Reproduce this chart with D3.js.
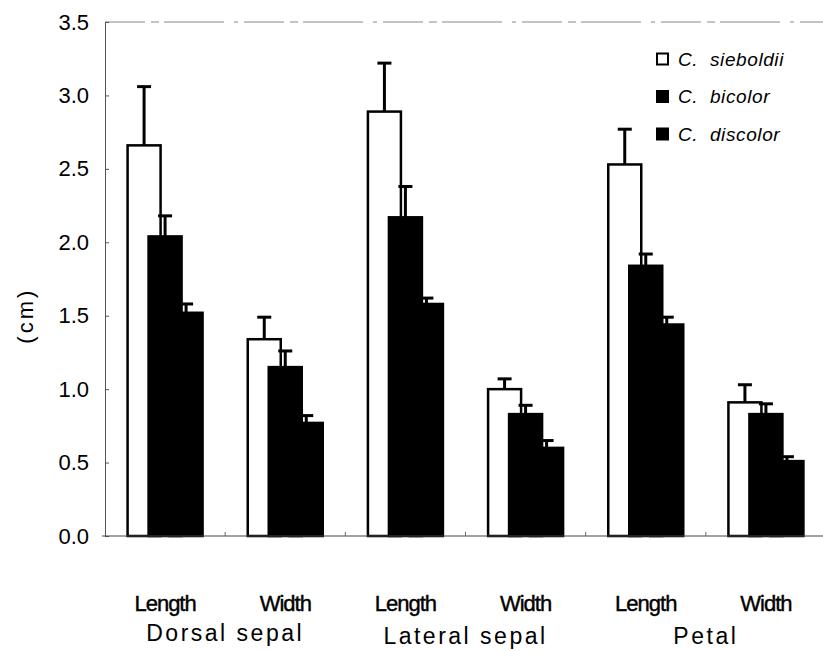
<!DOCTYPE html>
<html>
<head>
<meta charset="utf-8">
<script src="https://cdn.jsdelivr.net/npm/d3@7"></script>
<style>
    body { margin: 0; background: #fff; }
    #chart-area { width: 823px; height: 651px; }
</style>
</head>
<body>
<div id="chart-area"></div>
<script>

// values (cm)
let parts = ["Dorsal sepal", "Lateral sepal", "Petal"];
let measures = ["Length", "Width"];
let species = ["C. sieboldii", "C. bicolor", "C. discolor"];
let yTicks = [0, 0.5, 1.0, 1.5, 2.0, 2.5, 3.0, 3.5];

let sieboldii = [2.66, 1.34, 2.89, 1.00, 2.53, 0.91];
let sieboldiiErr = [0.40, 0.15, 0.33, 0.07, 0.24, 0.12];
let bicolor = [2.04, 1.15, 2.17, 0.83, 1.84, 0.83];
let bicolorErr = [0.14, 0.11, 0.21, 0.06, 0.08, 0.07];
let discolor = [1.52, 0.77, 1.58, 0.60, 1.44, 0.51];
let discolorErr = [0.06, 0.05, 0.04, 0.05, 0.05, 0.03];

class OrganChart {

    constructor(parentElement) {
        this.parentElement = parentElement;
    }

    initVis() {
        let vis = this;

        vis.width = 823;
        vis.height = 651;
        vis.margin = {top: 22, right: 0, bottom: 115, left: 105};

        vis.svg = d3.select("#" + vis.parentElement)
            .append("svg")
            .attr("width", vis.width)
            .attr("height", vis.height)
            .style("font-family", "Liberation Sans, Arial, sans-serif");

        // one slot per part/measure pair
        vis.cats = [];
        parts.forEach(p => measures.forEach(m => vis.cats.push({part: p, measure: m})));

        vis.x = d3.scaleBand()
            .domain(d3.range(vis.cats.length))
            .range([vis.margin.left, 826]);
        vis.xSub = d3.scalePoint()
            .domain(species)
            .range([0, 42]);
        vis.barW = 33;

        vis.y = d3.scaleLinear()
            .domain([0, 3.5])
            .range([vis.height - vis.margin.bottom, vis.margin.top]);

        vis.wrangleData();
    }

    wrangleData() {
        let vis = this;
        let vals = [sieboldii, bicolor, discolor];
        let errs = [sieboldiiErr, bicolorErr, discolorErr];

        vis.series = species.map((s, k) => ({
            name: s,
            fill: k === 0 ? "#fff" : "#000",
            values: vis.cats.map((c, i) => ({i: i, v: vals[k][i], e: errs[k][i]}))
        }));

        vis.updateVis();
    }

    updateVis() {
        let vis = this;
        let y0 = vis.y(0);

        // frame: thin left axis, ragged top line
        vis.svg.append("line")
            .attr("x1", vis.margin.left).attr("x2", 823)
            .attr("y1", vis.y(3.5)).attr("y2", vis.y(3.5))
            .attr("stroke", "#888")
            .attr("stroke-width", 1)
            .attr("stroke-dasharray", "40,6,8,5,60,10,4,6");

        let yAxis = d3.axisLeft(vis.y)
            .tickValues(yTicks)
            .tickFormat(d3.format(".1f"))
            .tickSize(-4)
            .tickPadding(16);
        let gy = vis.svg.append("g")
            .attr("class", "y-axis axis")
            .attr("transform", `translate(${vis.margin.left},0)`)
            .call(yAxis);
        gy.select(".domain").attr("stroke", "#555");
        gy.selectAll(".tick line").attr("stroke", "#555");
        gy.selectAll("text")
            .attr("font-size", "22px")
            .attr("fill", "#000")
            .attr("font-family", "Liberation Sans, Arial, sans-serif");

        // bars + error bars, drawn species by species so later ones overlap
        vis.series.forEach(s => {
            let g = vis.svg.append("g").attr("class", "series");
            let left = d => vis.x(d.i) + vis.x.bandwidth() / 2 - (42 + vis.barW) / 2 + vis.xSub(s.name);

            g.selectAll(".err")
                .data(s.values)
                .enter()
                .append("line")
                .attr("x1", d => left(d) + vis.barW / 2)
                .attr("x2", d => left(d) + vis.barW / 2)
                .attr("y1", d => vis.y(d.v))
                .attr("y2", d => vis.y(d.v + d.e))
                .attr("stroke", "#000")
                .attr("stroke-width", 3);
            g.selectAll(".cap")
                .data(s.values)
                .enter()
                .append("line")
                .attr("x1", d => left(d) + vis.barW / 2 - 7)
                .attr("x2", d => left(d) + vis.barW / 2 + 7)
                .attr("y1", d => vis.y(d.v + d.e))
                .attr("y2", d => vis.y(d.v + d.e))
                .attr("stroke", "#000")
                .attr("stroke-width", 3);

            g.selectAll("rect")
                .data(s.values)
                .enter()
                .append("rect")
                .attr("x", d => left(d))
                .attr("y", d => vis.y(d.v))
                .attr("width", vis.barW)
                .attr("height", d => y0 - vis.y(d.v))
                .attr("fill", s.fill)
                .attr("stroke", "#000")
                .attr("stroke-width", 2.5);
        });

        // bottom axis, ticks at the slot boundaries
        let xAxis = d3.axisBottom(vis.x)
            .tickValues([])
            .tickSizeOuter(0);
        let gx = vis.svg.append("g")
            .attr("class", "x-axis axis")
            .attr("transform", `translate(0,${y0})`)
            .call(xAxis);
        gx.select(".domain").attr("stroke", "#444").attr("d", `M102,0H823`);
        gx.selectAll(".bound")
            .data(d3.range(1, vis.cats.length))
            .enter()
            .append("line")
            .attr("x1", i => vis.x(i)).attr("x2", i => vis.x(i))
            .attr("y1", 0).attr("y2", -4)
            .attr("stroke", "#666");

        // measure labels
        vis.svg.selectAll(".measure")
            .data(vis.cats)
            .enter()
            .append("text")
            .attr("class", "measure")
            .attr("x", (d, i) => vis.x(i) + vis.x.bandwidth() / 2)
            .attr("y", 611)
            .attr("text-anchor", "middle")
            .attr("font-size", "22px")
            .attr("letter-spacing", "-1px")
            .attr("stroke", "#000")
            .attr("stroke-width", 0.4)
            .text(d => d.measure);

        // part labels, centred under each pair
        vis.svg.selectAll(".part")
            .data(parts)
            .enter()
            .append("text")
            .attr("class", "part")
            .attr("x", (d, k) => (vis.x(2 * k) + vis.x(2 * k + 1) + vis.x.bandwidth()) / 2)
            .attr("y", (d, k) => k === 0 ? 641 : 644)
            .attr("text-anchor", "middle")
            .attr("font-size", "23px")
            .attr("letter-spacing", "2.5px")
            .text(d => d);

        // y label
        vis.svg.append("text")
            .text("(cm)")
            .attr("transform", `translate(33,${vis.y(1.5)}) rotate(-90)`)
            .attr("text-anchor", "middle")
            .attr("font-size", "22px")
            .attr("letter-spacing", "3px");

        // legend
        let legend = vis.svg.append("g").attr("class", "legend");
        let rowY = d3.scalePoint().domain(species).range([59, 134]);
        vis.series.forEach(s => {
            legend.append("rect")
                .attr("x", 657)
                .attr("y", rowY(s.name) - 5.5)
                .attr("width", 11)
                .attr("height", 11)
                .attr("fill", s.fill)
                .attr("stroke", "#000")
                .attr("stroke-width", 2);
            legend.append("text")
                .attr("x", 678)
                .attr("y", rowY(s.name))
                .attr("dy", "0.35em")
                .attr("font-size", "19px")
                .attr("font-style", "italic")
                .attr("letter-spacing", "0.6px")
                .text(s.name.replace(". ", ".  "))
                .attr("xml:space", "preserve")
                .style("white-space", "pre");
        });
    }
}

let chart = new OrganChart("chart-area");
chart.initVis();

</script>
</body>
</html>
